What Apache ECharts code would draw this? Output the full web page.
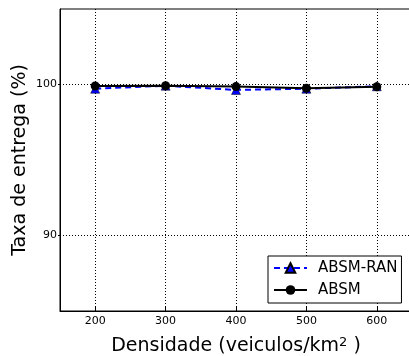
<!DOCTYPE html>
<html>
<head>
<meta charset="utf-8">
<script src="https://cdn.jsdelivr.net/npm/echarts@6/dist/echarts.min.js"></script>
<style>
html,body{margin:0;padding:0;background:#fff;}
#c{width:409px;height:356px;}
</style>
</head>
<body>
<div id="c"></div>
<script>
var densities = [200, 300, 400, 500, 600];
var absmRan = [99.72, 99.92, 99.64, 99.72, 99.88];
var absm = [99.9, 99.92, 99.86, 99.75, 99.85];
var yTicks = [90, 100];
var xTicks = [200, 300, 400, 500, 600];

function pairs(xs, ys) { return xs.map(function (x, i) { return [x, ys[i]]; }); }

var font = 'DejaVu Sans';
var chart = echarts.init(document.getElementById('c'), null, {renderer: 'canvas'});
chart.setOption({
  animation: false,
  backgroundColor: '#fff',
  grid: {left: 60, top: 9, right: -3, bottom: 45, show: true, borderColor: '#000', borderWidth: 1, containLabel: false, outerBoundsMode: 'none'},
  xAxis: {
    type: 'value', min: 150, max: 650,
    name: 'Densidade (veiculos/km{s|2} )', nameLocation: 'middle', nameGap: 25, nameMoveOverlap: false,
    nameTextStyle: {fontFamily: font, fontSize: 19, color: '#000', rich: {s: {fontFamily: font, fontSize: 13, color: '#000', verticalAlign: 'top', padding: [0, 0, 8, 0]}}},
    axisLine: {show: true, lineStyle: {color: '#000', width: 1}},
    axisTick: {show: true, inside: true, length: 4, customValues: xTicks, lineStyle: {color: '#000'}},
    axisLabel: {customValues: xTicks, fontFamily: font, fontSize: 11, color: '#000', margin: 5},
    splitLine: {show: true, lineStyle: {color: '#000', type: [1, 2], width: 1}}
  },
  yAxis: {
    type: 'value', min: 85, max: 105,
    name: 'Taxa de entrega (%)', nameLocation: 'middle', nameGap: 30, nameMoveOverlap: false,
    nameTextStyle: {fontFamily: font, fontSize: 19, color: '#000'},
    axisLine: {show: true, lineStyle: {color: '#000', width: 1}},
    axisTick: {show: true, inside: false, length: 2, customValues: yTicks, lineStyle: {color: '#000'}},
    axisLabel: {customValues: yTicks, fontFamily: font, fontSize: 11, color: '#000', margin: 3},
    splitLine: {show: true, lineStyle: {color: '#000', type: [1, 2], width: 1}}
  },
  legend: {
    orient: 'vertical', left: 268, top: 256,
    backgroundColor: '#fff', borderColor: '#000', borderWidth: 1,
    padding: [4, 4, 5, 5], itemWidth: 33, itemHeight: 12, itemGap: 6,
    textStyle: {fontFamily: font, fontSize: 15, color: '#000', padding: [0, 0, 0, 6], lineHeight: 16},
    data: ['ABSM-RAN', 'ABSM']
  },
  series: [
    {
      name: 'ABSM-RAN', type: 'line', data: pairs(densities, absmRan),
      symbol: 'triangle', symbolSize: 9,
      lineStyle: {color: '#0000ff', width: 2, type: [6, 4]},
      itemStyle: {color: '#0000ff', borderColor: '#000', borderWidth: 0.5},
      z: 2
    },
    {
      name: 'ABSM', type: 'line', data: pairs(densities, absm),
      symbol: 'circle', symbolSize: 9,
      lineStyle: {color: '#000', width: 2},
      itemStyle: {color: '#000'},
      z: 3
    }
  ]
});
</script>
</body>
</html>
